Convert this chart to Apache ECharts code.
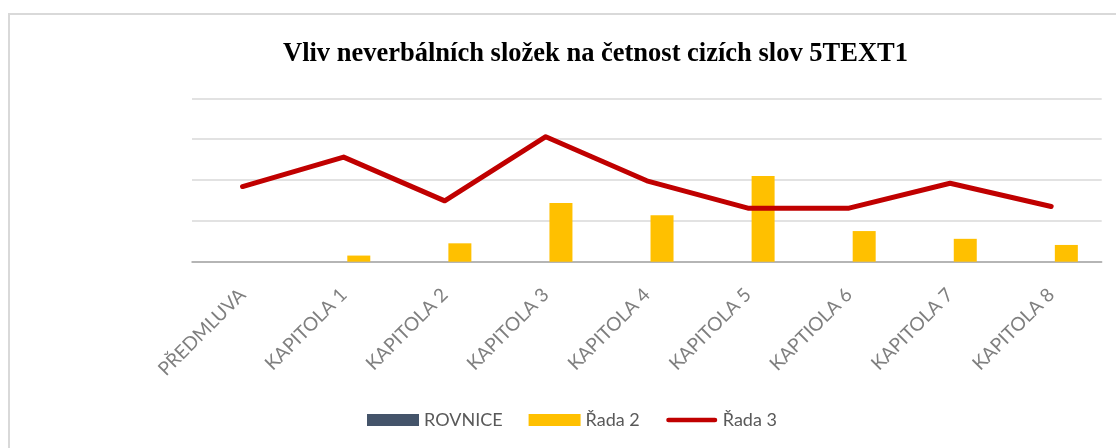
<!DOCTYPE html>
<html>
<head>
<meta charset="utf-8">
<script src="https://cdn.jsdelivr.net/npm/echarts@6/dist/echarts.min.js"></script>
<style>
  html, body { margin: 0; padding: 0; background: #fff; }
  #chart { width: 1116px; height: 448px; }
</style>
</head>
<body>
<div id="chart"></div>
<script>
// Chapters of the text
const categories = ['PŘEDMLUVA', 'KAPITOLA 1', 'KAPITOLA 2', 'KAPITOLA 3', 'KAPITOLA 4',
  'KAPITOLA 5', 'KAPTIOLA 6', 'KAPITOLA 7', 'KAPITOLA 8'];
// Series values per chapter
const rovnice = [0, 0, 0, 0, 0, 0, 0, 0, 0];
const rada2 = [0, 0.15, 0.45, 1.44, 1.14, 2.10, 0.75, 0.56, 0.41];
const rada3 = [1.84, 2.56, 1.49, 3.06, 1.98, 1.31, 1.31, 1.92, 1.35];

const chart = echarts.init(document.getElementById('chart'), null, { renderer: 'canvas' });

const labelFont = 'Lato, "Liberation Sans", sans-serif';

chart.setOption({
  animation: false,
  backgroundColor: '#ffffff',
  title: {
    text: 'Vliv neverbálních složek na četnost cizích slov 5TEXT1',
    left: 278,
    top: 36,
    textStyle: {
      fontFamily: '"Liberation Serif", "Times New Roman", serif',
      fontWeight: 'bold',
      fontSize: 26.5,
      color: '#000000'
    }
  },
  graphic: [{
    type: 'rect',
    shape: { x: 9, y: 14, width: 1300, height: 600 },
    style: { fill: 'none', stroke: '#d9d9d9', lineWidth: 2 },
    silent: true,
    z: -10
  }],
  legend: {
    left: 362,
    top: 406,
    itemWidth: 52,
    itemHeight: 12,
    itemGap: 26,
    textStyle: { fontFamily: labelFont, fontSize: 18, color: '#595959' },
    data: [
      { name: 'ROVNICE', icon: 'rect' },
      { name: 'Řada 2', icon: 'rect' },
      { name: 'Řada 3', icon: 'path://M0,0M56,12M3,3.5h50a2.5,2.5 0 0 1 0,5h-50a2.5,2.5 0 0 1 0,-5z' }
    ]
  },
  grid: {
    left: 192,
    right: 14.3,
    top: 98.3,
    bottom: 186.3,
    containLabel: false
  },
  xAxis: {
    type: 'category',
    data: categories,
    axisLine: { lineStyle: { color: '#a6a6a6', width: 1.5 } },
    axisTick: { show: false },
    axisLabel: {
      interval: 0,
      rotate: 45,
      margin: 30,
      fontFamily: labelFont,
      fontSize: 19,
      color: '#7f7f7f'
    }
  },
  yAxis: {
    type: 'value',
    min: 0,
    max: 4,
    interval: 1,
    axisLabel: { show: false },
    axisLine: { show: false },
    axisTick: { show: false },
    splitLine: { lineStyle: { color: '#d9d9d9', width: 1.5 } }
  },
  series: [
    {
      name: 'ROVNICE',
      type: 'bar',
      data: rovnice,
      barWidth: 23,
      barGap: '32%',
      itemStyle: { color: '#44546A' }
    },
    {
      name: 'Řada 2',
      type: 'bar',
      data: rada2,
      barWidth: 23,
      barGap: '32%',
      itemStyle: { color: '#FFC000' }
    },
    {
      name: 'Řada 3',
      type: 'line',
      data: rada3,
      symbol: 'none',
      z: 5,
      itemStyle: { color: '#C00000' },
      lineStyle: { color: '#C00000', width: 5, cap: 'round', join: 'round' }
    }
  ]
});
</script>
</body>
</html>
